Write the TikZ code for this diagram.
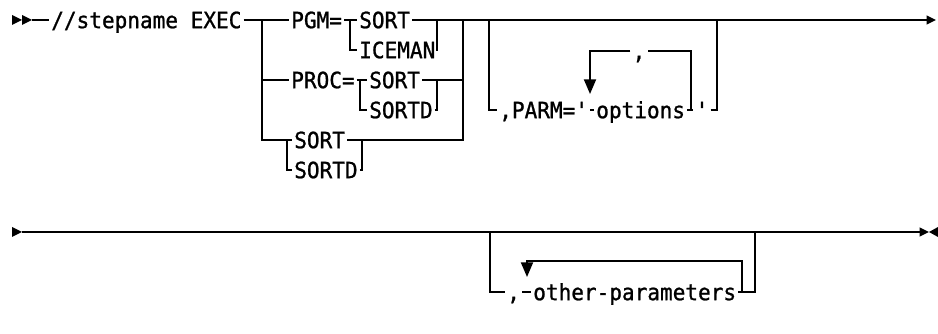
\documentclass[tikz,border=0pt]{standalone}
\usepackage{fontspec}
\newfontfamily\sintaxisfont{DejaVu Sans Mono}[FakeStretch=0.94, FakeBold=1]
\usetikzlibrary{arrows.meta}
\begin{document}
\begin{tikzpicture}[x=0.75pt, y=-0.75pt, line width=1.4pt]
  % Define word and loop arrow style
  \tikzstyle{mypalabra} = [font={\sintaxisfont\fontsize{16.8pt}{19pt}\selectfont},
  anchor=west, inner xsep=1pt, inner ysep=0pt, text height=12.25pt, text depth=0pt]
  \tikzstyle{mybucle} = [-{Triangle[length=11pt, width=9pt]}]
  \useasboundingbox (0,0) rectangle (938,334);

  % first line
  \fill (12,15) -- (22,20) -- (12,25) -- cycle;
  \fill (22,15) -- (32,20) -- (22,25) -- cycle;
  \coordinate (beg1) at (32,20);
  \node[mypalabra] (exec) at (49,20) {//stepname EXEC};
  \coordinate (fork1) at (262,20);
  \node[mypalabra] (pgm) at (289,20) {PGM=};
  \coordinate (teeA) at (350,20);
  \node[mypalabra] (sortA) at (357,20) {SORT};
  \node[mypalabra] (iceman) at (357,50) {ICEMAN};
  \coordinate (joinA) at (437,20);
  \coordinate (joinB) at (463,20);
  \coordinate (forkP) at (489,20);
  \coordinate (joinP) at (717,20);
  \coordinate (end1) at (936,20);

  \node[mypalabra] (proc) at (289,80) {PROC=};
  \coordinate (teeB) at (360,80);
  \node[mypalabra] (sortB) at (367,80) {SORT};
  \node[mypalabra] (sortdB) at (367,110) {SORTD};
  \coordinate (joinC) at (437,80);

  \coordinate (teeC) at (287,140);
  \node[mypalabra] (sortC) at (292,140) {SORT};
  \node[mypalabra] (sortdC) at (292,170) {SORTD};
  \coordinate (joinD) at (362,140);

  \draw (beg1) -- (exec);
  \draw (exec) -- (pgm);
  \draw (fork1) |- (proc);
  \draw (fork1) |- (teeC) -- (sortC);
  \draw (teeC) |- (sortdC);
  \draw (pgm) -- (sortA);
  \draw (teeA) |- (iceman);
  \draw (iceman) -| (joinA);
  \draw[-{Triangle[length=7pt, width=6.5pt]}] (sortA) -- (end1);
  \draw (proc) -- (sortB);
  \draw (teeB) |- (sortdB);
  \draw (sortdB) -| (joinC);
  \draw (sortB) -| (joinB);
  \draw (sortC) -| (joinB);
  \draw (sortdC) -| (joinD);

  % optional PARM
  \node[mypalabra] (parm) at (497,110) {,PARM='};
  \node[mypalabra] (opts) at (594,110) {options};
  \node[mypalabra, anchor=center] (quote) at (702,110) {'};
  \node[mypalabra, anchor=center] (sep) at (639,51) {,};
  \coordinate (loopR) at (691,110);
  \coordinate (loopA) at (590,94);
  \draw (forkP) |- (parm);
  \draw (parm) -- (opts);
  \draw (opts) -- (quote);
  \draw (quote) -| (joinP);
  \draw (loopR) |- (sep);
  \draw[mybucle] (sep) -| (loopA);

  % second line
  \fill (12,227) -- (22,232) -- (12,237) -- cycle;
  \coordinate (beg2) at (22,232);
  \coordinate (forkQ) at (490,232);
  \coordinate (joinQ) at (755,232);
  \coordinate (end2) at (929,232);
  \draw[-{Triangle[length=7pt, width=6.5pt]}] (beg2) -- (end2);
  \fill (938,227) -- (929,232) -- (938,237) -- cycle;

  \node[mypalabra] (sep2) at (505,292) {,};
  \node[mypalabra] (other) at (531,292) {other-parameters};
  \coordinate (loopR2) at (742,292);
  \coordinate (loopT2) at (742,261);
  \coordinate (loopA2) at (527,277);
  \draw (forkQ) |- (sep2);
  \draw (sep2) -- (other);
  \draw (other) -| (joinQ);
  \draw[mybucle] (loopR2) -- (loopT2) -| (loopA2);
\end{tikzpicture}
\end{document}
